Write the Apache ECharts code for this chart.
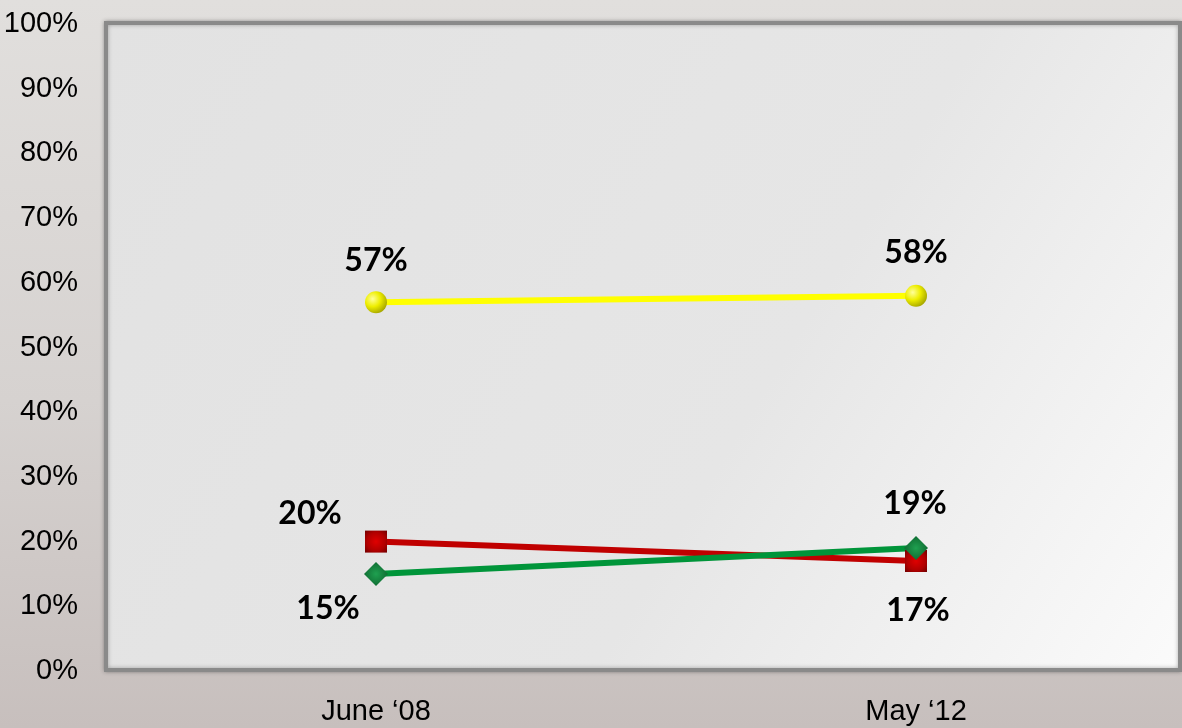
<!DOCTYPE html>
<html>
<head>
<meta charset="utf-8">
<script src="https://cdn.jsdelivr.net/npm/echarts@6/dist/echarts.min.js"></script>
<style>
html, body { margin: 0; padding: 0; }
body { background: linear-gradient(180deg, #e1dfdd 0%, #d6d2d0 55%, #c7bfbd 100%); }
#main { width: 1182px; height: 728px; }
</style>
</head>
<body>
<div id="main"></div>
<script>
var categories = ['June \u201808', 'May \u201812'];
var yellowValues = [57, 58];
var redValues = [20, 17];
var greenValues = [15, 19];
var yTicks = [0, 10, 20, 30, 40, 50, 60, 70, 80, 90, 100];

// label offsets relative to each point
var yellowOffsets = [[0, -42], [0, -43]];
var redOffsets = [[-66, -28], [2, 50]];
var greenOffsets = [[-48, 35], [-1, -44]];

function withLabels(values, offsets) {
    var out = [];
    for (var i = 0; i < values.length; i++) {
        out.push({
            value: values[i],
            label: { offset: offsets[i] }
        });
    }
    return out;
}

var labelStyle = {
    show: true,
    position: 'inside',
    formatter: '{c}%',
    fontFamily: 'Lato',
    fontWeight: 'bold',
    fontSize: 32,
    color: '#000'
};

var myChart = echarts.init(document.getElementById('main'));
var option = {
    animation: false,
    grid: [
        {
            // the framed plot box
            left: 106,
            right: 2,
            top: 23,
            bottom: 58,
            show: true,
            backgroundColor: {
                type: 'linear', x: 0, y: 0, x2: 1, y2: 1,
                colorStops: [
                    { offset: 0, color: '#e2e2e2' },
                    { offset: 0.6, color: '#e6e6e6' },
                    { offset: 1, color: '#fbfbfb' }
                ]
            },
            borderColor: '#8a8a8a',
            borderWidth: 4,
            shadowColor: 'rgba(0,0,0,0.3)',
            shadowBlur: 4
        },
        {
            left: 106,
            right: -4,
            top: 24,
            bottom: 57,
            outerBoundsMode: 'none',
            containLabel: false
        }
    ],
    xAxis: {
        type: 'category',
        gridIndex: 1,
        data: categories,
        boundaryGap: true,
        axisLine: { show: false },
        axisTick: { show: false },
        axisLabel: {
            margin: 26,
            fontFamily: 'Liberation Sans',
            fontSize: 29,
            color: '#000'
        }
    },
    yAxis: {
        type: 'value',
        gridIndex: 1,
        min: yTicks[0],
        max: yTicks[yTicks.length - 1],
        interval: 10,
        axisLine: { show: false },
        axisTick: { show: false },
        splitLine: { show: false },
        axisLabel: {
            margin: 28,
            formatter: '{value}%',
            fontFamily: 'Liberation Sans',
            fontSize: 29,
            color: '#000'
        }
    },
    series: [
        {
            name: 'yellow',
            type: 'line',
            data: withLabels(yellowValues, yellowOffsets),
            symbol: 'circle',
            symbolSize: 22,
            lineStyle: { color: '#ffff00', width: 6 },
            itemStyle: {
                color: {
                    type: 'radial', x: 0.35, y: 0.35, r: 0.7,
                    colorStops: [
                        { offset: 0, color: '#ffff9a' },
                        { offset: 0.5, color: '#eeee00' },
                        { offset: 1, color: '#a6a600' }
                    ]
                }
            },
            label: labelStyle
        },
        {
            name: 'red',
            type: 'line',
            data: withLabels(redValues, redOffsets),
            symbol: 'rect',
            symbolSize: 22,
            lineStyle: { color: '#c00000', width: 6 },
            itemStyle: {
                color: {
                    type: 'radial', x: 0.5, y: 0.5, r: 0.7,
                    colorStops: [
                        { offset: 0, color: '#e00000' },
                        { offset: 0.6, color: '#b00000' },
                        { offset: 1, color: '#700000' }
                    ]
                }
            },
            label: labelStyle
        },
        {
            name: 'green',
            type: 'line',
            data: withLabels(greenValues, greenOffsets),
            symbol: 'diamond',
            symbolSize: 24,
            lineStyle: { color: '#00953a', width: 6 },
            itemStyle: {
                color: {
                    type: 'radial', x: 0.5, y: 0.5, r: 0.7,
                    colorStops: [
                        { offset: 0, color: '#1fa050' },
                        { offset: 1, color: '#0a5a28' }
                    ]
                }
            },
            label: labelStyle
        }
    ]
};
myChart.setOption(option);
</script>
</body>
</html>
